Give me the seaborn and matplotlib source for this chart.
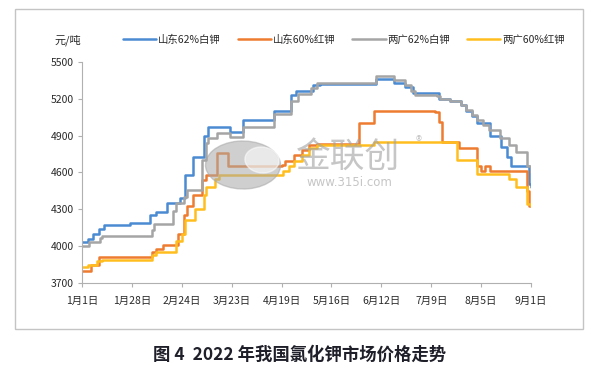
import pandas as pd
import numpy as np
import seaborn as sns
import matplotlib.pyplot as plt
from matplotlib.patches import Ellipse, Rectangle

# change points of each step series: day offset from 2022-01-01, price (元/吨)
sd62_days = [0, 3, 6, 9, 12, 26, 37, 40, 46, 53, 56, 60, 66, 68, 80, 87, 104, 113, 116, 125, 129,
             159, 169, 175, 179, 193, 199, 205, 208, 211, 214, 221, 227, 230, 232, 242, 243]
sd62_vals = [4030, 4060, 4100, 4140, 4170, 4190, 4250, 4280, 4350, 4390, 4580, 4730, 4900, 4970, 4930,
             5030, 5100, 5230, 5260, 5310, 5320, 5360, 5330, 5300, 5250, 5200, 5180, 5150, 5100, 5060,
             5000, 4900, 4810, 4730, 4650, 4510, 4480]

sd60_days = [0, 5, 9, 38, 40, 44, 52, 55, 57, 60, 65, 67, 73, 79, 108, 110, 115, 119, 123, 127,
             150, 158, 191, 193, 195, 204, 214, 216, 218, 221, 241, 242, 243]
sd60_vals = [3800, 3850, 3910, 3955, 3980, 4010, 4100, 4250, 4330, 4420, 4540, 4580, 4760, 4650,
             4660, 4690, 4740, 4780, 4820, 4830, 5000, 5100, 5095, 5010, 4850, 4800, 4650, 4610,
             4650, 4610, 4450, 4330, 4330]

gd62_days = [0, 4, 10, 11, 38, 39, 49, 51, 55, 57, 65, 67, 68, 73, 80, 87, 104, 113, 117, 124, 127,
             159, 169, 175, 178, 180, 192, 194, 199, 205, 208, 211, 214, 217, 220, 226, 231, 235, 241, 243]
gd62_vals = [4000, 4030, 4070, 4080, 4130, 4180, 4290, 4350, 4400, 4460, 4700, 4840, 4880, 4920,
             4890, 4970, 5080, 5180, 5240, 5290, 5330, 5385, 5350, 5310, 5260, 5230, 5225, 5200,
             5180, 5150, 5110, 5070, 5030, 4990, 4950, 4880, 4820, 4770, 4650, 4600]

gd60_days = [0, 3, 8, 11, 38, 40, 51, 54, 56, 61, 66, 67, 72, 74, 109, 112, 115, 119, 123, 127,
             158, 203, 214, 231, 235, 241, 243]
gd60_vals = [3830, 3850, 3880, 3890, 3930, 3955, 4040, 4100, 4210, 4300, 4420, 4480, 4550, 4580,
             4610, 4650, 4690, 4740, 4800, 4825, 4850, 4700, 4590, 4550, 4480, 4340, 4330]

series_names = ["山东62%白钾", "山东60%红钾", "两广62%白钾", "两广60%红钾"]
colors = ["#4A8BD2", "#EE7C30", "#A5A5A5", "#FFBE1E"]
yticks = [3700, 4000, 4300, 4600, 4900, 5200, 5500]
start = pd.Timestamp("2022-01-01")
xticks = pd.date_range(start, periods=10, freq="27D")

frames = []
for name, d, v in zip(series_names, [sd62_days, sd60_days, gd62_days, gd60_days],
                      [sd62_vals, sd60_vals, gd62_vals, gd60_vals]):
    frames.append(pd.DataFrame({"date": start + pd.to_timedelta(d, unit="D"), "price": v, "series": name}))
df = pd.concat(frames, ignore_index=True)

sns.set_theme(style="white")
plt.rcParams["font.family"] = ["Noto Sans CJK SC", "DejaVu Sans"]

fig = plt.figure(figsize=(5.98, 3.73), dpi=100)
ax = fig.add_axes([82 / 598, 1 - 283 / 373, (531 - 82) / 598, (283 - 62) / 373])

sns.lineplot(data=df, x="date", y="price", hue="series", hue_order=series_names,
             palette=colors, drawstyle="steps-post", linewidth=1.8, ax=ax, legend=True)

ax.set_xlim(start, xticks[-1])
ax.set_ylim(3700, 5500)
ax.set_yticks(yticks)
ax.set_yticklabels([str(t) for t in yticks], fontsize=7.5, color="#2a2a2a")
ax.set_xticks(xticks)
ax.set_xticklabels([f"{d.month}月{d.day}日" for d in xticks], fontsize=7.5, color="#2a2a2a")
ax.set_xlabel("")
ax.set_ylabel("")
for s in ["top", "right"]:
    ax.spines[s].set_visible(False)
for s in ["left", "bottom"]:
    ax.spines[s].set_color("#b0b0b0")
    ax.spines[s].set_linewidth(0.8)
ax.tick_params(axis="both", length=3, width=0.8, color="#b0b0b0", direction="out",
               bottom=True, left=True, pad=3)
ax.tick_params(axis="x", pad=6)

handles, labels = ax.get_legend_handles_labels()
leg = ax.legend(handles, labels, ncol=4, frameon=False, fontsize=7.5,
                loc="center", bbox_to_anchor=(344 / 598, 1 - 40 / 373), bbox_transform=fig.transFigure,
                handlelength=3.2, handletextpad=0.2, columnspacing=1.6)
for t in leg.get_texts():
    t.set_color("#2a2a2a")

fig.text(68 / 598, 1 - 40 / 373, "元/吨", fontsize=8, ha="center", va="center", color="#2a2a2a")

# watermark
fig.patches.append(Ellipse((243 / 598, 1 - 165 / 373), 75 / 598, 48 / 373, angle=8,
                           transform=fig.transFigure, color="#a8a8a8", alpha=0.55, zorder=5))
fig.patches.append(Ellipse((262 / 598, 1 - 160 / 373), 34 / 598, 26 / 373, angle=8,
                           transform=fig.transFigure, color="white", alpha=0.55, zorder=6))
fig.text(348 / 598, 1 - 158 / 373, "金联创", fontsize=25, ha="center", va="center",
         color="#a0a0a0", alpha=0.6, zorder=7)
fig.text(419 / 598, 1 - 142 / 373, "®", fontsize=9, ha="center", va="center",
         color="#a0a0a0", alpha=0.6, zorder=7)
fig.text(349 / 598, 1 - 183 / 373, "www.315i.com", fontsize=8.5, ha="center", va="center",
         color="#a0a0a0", alpha=0.6, zorder=7, family="DejaVu Sans")

# outer frame of the chart area
fig.patches.append(Rectangle((15 / 598, 1 - 329 / 373), (583 - 15) / 598, (329 - 9) / 373,
                             transform=fig.transFigure, fill=False, edgecolor="#c4c4c4",
                             linewidth=1.0, zorder=0))

fig.text(300 / 598, 1 - 355 / 373, "图 4  2022 年我国氯化钾市场价格走势", fontsize=12.5,
         ha="center", va="center", color="#1f1f2a", fontweight="bold")

fig.savefig("out.png", dpi=100)
